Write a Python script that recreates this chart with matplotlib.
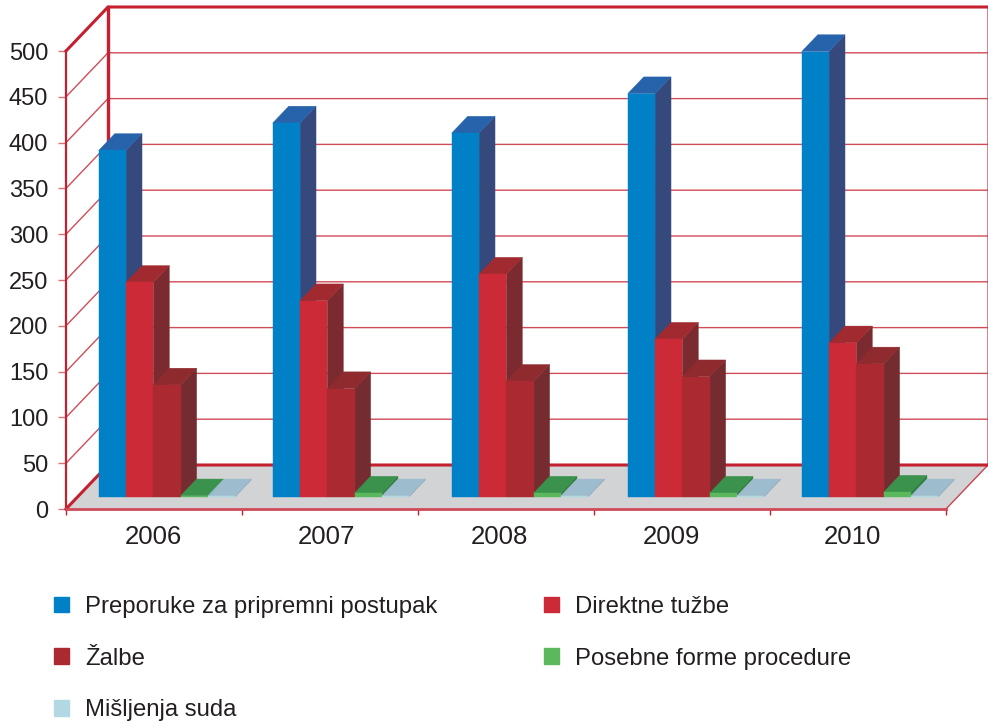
#grouped 3d-look bars, drawn as flat polygons on a normal 2d axes
import matplotlib
matplotlib.use('Agg')
import matplotlib.pyplot as plt
from matplotlib.patches import Patch

plt.rcParams['font.family'] = ['Liberation Sans', 'DejaVu Sans']

years = ['2006', '2007', '2008', '2009', '2010']
preporuke = [378, 408, 397, 440, 486]
direktne = [234, 214, 243, 172, 168]
zalbe = [122, 118, 126, 131, 145]
posebne = [1, 4, 4, 4, 5]
misljenja = [1, 1, 1, 1, 1]
y_ticks = [0, 50, 100, 150, 200, 250, 300, 350, 400, 450, 500]

names = ['Preporuke za pripremni postupak', 'Direktne tužbe', 'Žalbe',
         'Posebne forme procedure', 'Mišljenja suda']
series = [preporuke, direktne, zalbe, posebne, misljenja]
front_col = ['#0080C6', '#CC2A36', '#AB2A31', '#5CB85C', '#B2D8E4']
top_col = ['#2763AB', '#A02A30', '#8F2A2F', '#3A924C', '#9DBCCD']
side_col = ['#35497C', '#7B2B30', '#742C30', '#2F7A3F', '#86A6B8']
red = '#C4202F'
text_col = '#231F20'

fig = plt.figure(figsize=(9.88, 7.23), dpi=100)
W, H = 988.0, 723.0
# axes box runs from x 66..946, value 0 at y 509 and 500 at y 51 (pixels)
ax = fig.add_axes([66 / W, 1 - 509 / H, 880 / W, 458 / H])
ax.set_xlim(0, 5)
ax.set_ylim(0, 500)
ax.patch.set_visible(False)

# one unit of depth moves a point this far right and up
DX = 42 / 176.0
DY = 44 / 0.916


def pts(corners):
    xs = [c[0] + c[2] * DX for c in corners]
    ys = [c[1] + c[2] * DY for c in corners]
    return xs, ys


def face(corners, color, z):
    xs, ys = pts(corners)
    ax.fill(xs, ys, color=color, lw=0.3, clip_on=False, zorder=z)


# floor and walls
face([(0, 0, 0), (5, 0, 0), (5, 0, 1), (0, 0, 1)], '#D1D3D4', 1)
for v in y_ticks:
    strong = v == 500
    xs, ys = pts([(0, v, 0), (0, v, 1), (5, v, 1)])
    ax.plot(xs, ys, color=red, lw=2.2 if strong or v == 0 else 1.0,
            alpha=1 if strong or v == 0 else 0.8, clip_on=False, zorder=2,
            solid_joinstyle='miter')
xs, ys = pts([(0, 0, 1), (0, 500, 1)])
ax.plot(xs, ys, color=red, lw=2.4, clip_on=False, zorder=2)
xs, ys = pts([(5, 0, 0), (5, 0, 1), (5, 500, 1)])
ax.plot(xs, ys, color=red, lw=1.0, alpha=0.8, clip_on=False, zorder=2)

# bars, left to right so each front face hides the side of the previous bar
group_left = [0.1193, 0.108, 0.125, 0.125, 0.1136]
bar_w = 27.3 / 176
d0, d1 = 0.28, 0.66
z = 3
for i in range(len(years)):
    for s in range(len(series)):
        v = series[s][i]
        x0 = i + group_left[i] + s * bar_w
        x1 = x0 + bar_w
        base = d0
        face([(x1, 0, base), (x1, 0, d1), (x1, v, d1), (x1, v, base)], side_col[s], z)
        face([(x0, v, base), (x1, v, base), (x1, v, d1), (x0, v, d1)], top_col[s], z)
        face([(x0, 0, base), (x1, 0, base), (x1, v, base), (x0, v, base)], front_col[s], z + 1)
        z += 2

# axes and ticks
for name in ['top', 'right']:
    ax.spines[name].set_visible(False)
ax.spines['left'].set_color(red)
ax.spines['left'].set_linewidth(1.6)
ax.spines['bottom'].set_color('#CE4A56')
ax.spines['bottom'].set_linewidth(2.0)
ax.spines['left'].set_zorder(2)
ax.spines['bottom'].set_zorder(2)

ax.set_yticks(y_ticks)
ax.tick_params(axis='y', length=5.8, width=1.0, color='#D9707A', pad=7,
               labelsize=17, labelcolor=text_col)
ax.set_xticks(range(6))
ax.set_xticklabels([])
ax.tick_params(axis='x', which='major', length=4.5, width=1.0, color=red)

# year labels sit slightly off the group centres
label_x = [0.496, 1.48, 2.46, 3.44, 4.47]
ax.set_xticks(label_x, minor=True)
ax.set_xticklabels(years, minor=True)
ax.tick_params(axis='x', which='minor', length=0, pad=11.3, labelsize=18.5,
               labelcolor=text_col)

# legend fills column by column
order = [0, 2, 4, 1, 3]
handles = [Patch(color=front_col[k], label=names[k]) for k in order]
leg = fig.legend(handles=handles, loc='upper left', ncol=2, frameon=False,
                 bbox_to_anchor=(54 / W, 1 - 596 / H), borderpad=0, borderaxespad=0,
                 fontsize=17.2, handlelength=0.63, handleheight=0.63,
                 handletextpad=0.67, labelspacing=1.24, columnspacing=4.45,
                 labelcolor=text_col)

fig.savefig('out.png', dpi=100)
